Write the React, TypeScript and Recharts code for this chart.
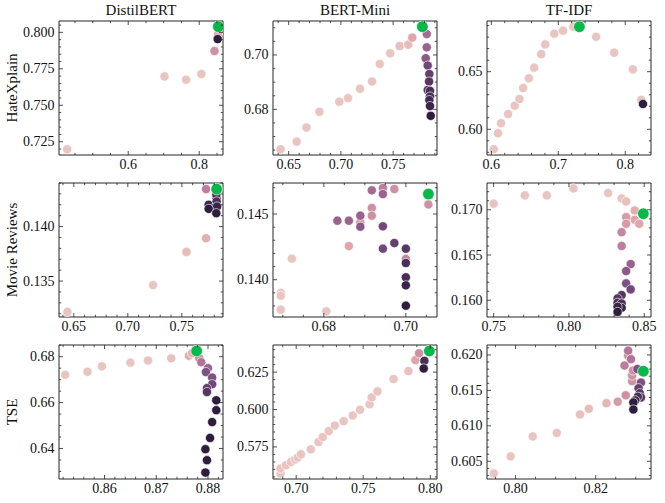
import React from 'react';
import { ScatterChart, Scatter, XAxis, YAxis } from 'recharts';

type Pt = [number, number, number]; // [metric x, metric y, hue level]

const models = ['DistilBERT', 'BERT-Mini', 'TF-IDF'];
const datasets = ['HateXplain', 'Movie Reviews', 'TSE'];

// ---------- HateXplain ----------
const hateDistil: Pt[] = [
  [0.428, 0.7198, 0.05], [0.702, 0.7698, 0.05], [0.763, 0.7675, 0.05], [0.806, 0.7714, 0.05],
  [0.843, 0.7872, 0.35], [0.853, 0.799, 0.2], [0.852, 0.7954, 1.0],
];
const hateDistilBest: [number, number] = [0.854, 0.8039];

const hateMini: Pt[] = [
  [0.6423, 0.6653, 0.05], [0.6577, 0.6681, 0.05], [0.667, 0.6733, 0.05], [0.6795, 0.6791, 0.05],
  [0.6985, 0.6828, 0.05], [0.7068, 0.6841, 0.05], [0.7183, 0.6876, 0.05], [0.7298, 0.6902, 0.05],
  [0.7372, 0.6967, 0.05], [0.7472, 0.7006, 0.05], [0.7562, 0.7033, 0.08], [0.7645, 0.7038, 0.1],
  [0.7683, 0.7064, 0.25], [0.7822, 0.7077, 0.55], [0.7822, 0.7028, 0.6], [0.7812, 0.6988, 0.65],
  [0.7831, 0.6961, 0.75], [0.7847, 0.693, 0.8], [0.7844, 0.6902, 0.85], [0.7831, 0.6871, 0.85],
  [0.7853, 0.6868, 0.9], [0.7853, 0.6847, 0.9], [0.7847, 0.6834, 0.92], [0.7853, 0.6812, 0.95],
  [0.786, 0.6776, 1.0],
];
const hateMiniBest: [number, number] = [0.778, 0.7104];

const hateTfidf: Pt[] = [
  [0.6035, 0.5827, 0.05], [0.61, 0.5966, 0.05], [0.6145, 0.6053, 0.05], [0.625, 0.6133, 0.05],
  [0.635, 0.6205, 0.05], [0.642, 0.6263, 0.05], [0.6475, 0.6359, 0.05], [0.656, 0.6443, 0.05],
  [0.664, 0.6535, 0.05], [0.6745, 0.6653, 0.05], [0.6805, 0.6737, 0.05], [0.694, 0.683, 0.05],
  [0.707, 0.6856, 0.05], [0.7225, 0.689, 0.05], [0.7565, 0.6803, 0.05], [0.7835, 0.6665, 0.05],
  [0.8115, 0.652, 0.05], [0.824, 0.6255, 0.05], [0.8265, 0.622, 1.0],
];
const hateTfidfBest: [number, number] = [0.7315, 0.689];

// ---------- Movie Reviews ----------
const movieDistil: Pt[] = [
  [0.6441, 0.13217, 0.05], [0.7234, 0.13463, 0.05], [0.7543, 0.13767, 0.1], [0.7724, 0.13893, 0.2],
  [0.7724, 0.14344, 0.45], [0.7822, 0.1426, 0.8], [0.7819, 0.14292, 0.85], [0.7822, 0.1423, 0.9],
  [0.7808, 0.1415, 0.9], [0.7748, 0.142, 0.95], [0.7794, 0.1417, 0.9], [0.7826, 0.14184, 0.95],
  [0.7748, 0.14163, 1.0], [0.7819, 0.14123, 1.0],
];
const movieDistilBest: [number, number] = [0.7822, 0.14344];

const movieMini: Pt[] = [
  [0.6695, 0.13899, 0.05], [0.6695, 0.13878, 0.05], [0.6695, 0.13772, 0.05], [0.6722, 0.1416, 0.05],
  [0.6806, 0.13759, 0.05], [0.6861, 0.14256, 0.25], [0.6889, 0.14436, 0.3], [0.6917, 0.14546, 0.35],
  [0.6917, 0.14487, 0.35], [0.6972, 0.1469, 0.35], [0.6833, 0.14449, 0.6], [0.6861, 0.14449, 0.6],
  [0.6889, 0.14487, 0.6], [0.6889, 0.14403, 0.65], [0.6917, 0.1468, 0.55], [0.6944, 0.14698, 0.45],
  [0.6944, 0.14652, 0.6], [0.6944, 0.14406, 0.75], [0.6944, 0.14236, 0.75], [0.6972, 0.14279, 0.8],
  [0.7, 0.14236, 0.85], [0.7, 0.14158, 0.4], [0.7, 0.14127, 0.9], [0.7, 0.14018, 0.9],
  [0.7, 0.13957, 0.95], [0.7, 0.13802, 1.0], [0.7055, 0.14573, 0.35],
];
const movieMiniBest: [number, number] = [0.7055, 0.14652];

const movieTfidf: Pt[] = [
  [0.75, 0.17067, 0.05], [0.7707, 0.17159, 0.05], [0.7853, 0.17159, 0.05], [0.803, 0.17236, 0.05],
  [0.826, 0.17185, 0.05], [0.835, 0.17125, 0.05], [0.838, 0.17092, 0.08], [0.8437, 0.16992, 0.2],
  [0.8437, 0.16889, 0.25], [0.8467, 0.16845, 0.25], [0.838, 0.16919, 0.3], [0.838, 0.16845, 0.3],
  [0.835, 0.16752, 0.4], [0.835, 0.166, 0.45], [0.841, 0.164, 0.6], [0.838, 0.16323, 0.65],
  [0.838, 0.16186, 0.7], [0.841, 0.1612, 0.75], [0.835, 0.16057, 0.85], [0.8323, 0.1602, 0.85],
  [0.8323, 0.15972, 0.9], [0.835, 0.15964, 0.9], [0.835, 0.15916, 0.95], [0.8323, 0.15927, 0.95],
  [0.8323, 0.15871, 1.0],
];
const movieTfidfBest: [number, number] = [0.8494, 0.16956];

// ---------- TSE ----------
const tseDistil: Pt[] = [
  [0.8524, 0.6721, 0.05], [0.8567, 0.6734, 0.05], [0.8595, 0.6758, 0.05], [0.865, 0.6774, 0.05],
  [0.8684, 0.6783, 0.05], [0.8729, 0.6793, 0.08], [0.8763, 0.6804, 0.2], [0.8769, 0.6815, 0.15],
  [0.8783, 0.6793, 0.35], [0.8787, 0.6776, 0.5], [0.88, 0.675, 0.6], [0.8796, 0.6733, 0.7],
  [0.8808, 0.6709, 0.7], [0.8808, 0.668, 0.75], [0.8798, 0.6663, 0.8], [0.8798, 0.6646, 0.85],
  [0.8816, 0.661, 1.0], [0.8816, 0.6567, 1.0], [0.8808, 0.6515, 1.0], [0.8804, 0.6446, 1.0],
  [0.8795, 0.6397, 1.0], [0.8798, 0.6349, 1.0], [0.8795, 0.6295, 1.0],
];
const tseDistilBest: [number, number] = [0.8778, 0.6825];

const tseMini: Pt[] = [
  [0.6883, 0.5573, 0.05], [0.6883, 0.5606, 0.05], [0.6923, 0.5628, 0.05], [0.6961, 0.565, 0.05],
  [0.6993, 0.5666, 0.05], [0.7012, 0.5679, 0.05], [0.7035, 0.5701, 0.05], [0.7109, 0.5734, 0.05],
  [0.7166, 0.5783, 0.05], [0.7198, 0.5816, 0.05], [0.7243, 0.5856, 0.05], [0.7288, 0.5893, 0.05],
  [0.7354, 0.5922, 0.05], [0.7421, 0.596, 0.05], [0.7476, 0.5998, 0.05], [0.7548, 0.6035, 0.05],
  [0.7563, 0.6081, 0.05], [0.7606, 0.6121, 0.05], [0.7726, 0.6204, 0.05], [0.7837, 0.6257, 0.08],
  [0.7889, 0.633, 0.25], [0.7916, 0.6376, 0.35], [0.7956, 0.6325, 0.9], [0.7951, 0.6274, 1.0],
];
const tseMiniBest: [number, number] = [0.7993, 0.6391];

const tseTfidf: Pt[] = [
  [0.7946, 0.6033, 0.05], [0.7988, 0.6057, 0.05], [0.8043, 0.6085, 0.05], [0.8103, 0.609, 0.05],
  [0.8161, 0.6116, 0.08], [0.8183, 0.6124, 0.1], [0.8227, 0.6132, 0.15], [0.8255, 0.6134, 0.3],
  [0.8275, 0.6143, 0.35], [0.8291, 0.6163, 0.35], [0.8291, 0.6171, 0.35], [0.8293, 0.6178, 0.35],
  [0.8272, 0.6185, 0.45], [0.8281, 0.6199, 0.35], [0.8281, 0.6206, 0.5], [0.8288, 0.6194, 0.5],
  [0.8304, 0.618, 0.7], [0.8313, 0.6161, 0.7], [0.8307, 0.6153, 0.8], [0.831, 0.6146, 0.85],
  [0.8313, 0.614, 0.85], [0.8305, 0.6141, 0.9], [0.8299, 0.6136, 0.9], [0.8294, 0.6133, 1.0],
  [0.8294, 0.6123, 1.0],
];
const tseTfidfBest: [number, number] = [0.8319, 0.6177];

// ---------- axes: domains and tick labels ----------
interface Spec {
  pts: Pt[];
  best: [number, number];
  xDom: [number, number];
  yDom: [number, number];
  xLabels: string[];
  yLabels: string[];
  xMinor: number;
  yMinor: number;
}

const grid: Spec[][] = [
  [
    { pts: hateDistil, best: hateDistilBest, xDom: [0.405, 0.867], yDom: [0.7159, 0.8078],
      xLabels: ['0.6', '0.8'], yLabels: ['0.725', '0.750', '0.775', '0.800'], xMinor: 0.05, yMinor: 0.005 },
    { pts: hateMini, best: hateMiniBest, xDom: [0.635, 0.792], yDom: [0.6632, 0.7125],
      xLabels: ['0.65', '0.70', '0.75'], yLabels: ['0.68', '0.70'], xMinor: 0.01, yMinor: 0.005 },
    { pts: hateTfidf, best: hateTfidfBest, xDom: [0.5935, 0.8385], yDom: [0.5777, 0.694],
      xLabels: ['0.6', '0.7', '0.8'], yLabels: ['0.60', '0.65'], xMinor: 0.02, yMinor: 0.01 },
  ],
  [
    { pts: movieDistil, best: movieDistilBest, xDom: [0.6363, 0.7881], yDom: [0.1317, 0.144],
      xLabels: ['0.65', '0.70', '0.75'], yLabels: ['0.135', '0.140'], xMinor: 0.01, yMinor: 0.001 },
    { pts: movieMini, best: movieMiniBest, xDom: [0.6676, 0.7076], yDom: [0.13716, 0.14736],
      xLabels: ['0.68', '0.70'], yLabels: ['0.140', '0.145'], xMinor: 0.005, yMinor: 0.001 },
    { pts: movieTfidf, best: movieTfidfBest, xDom: [0.7456, 0.8545], yDom: [0.15815, 0.17296],
      xLabels: ['0.75', '0.80', '0.85'], yLabels: ['0.160', '0.165', '0.170'], xMinor: 0.01, yMinor: 0.001 },
  ],
  [
    { pts: tseDistil, best: tseDistilBest, xDom: [0.8512, 0.8829], yDom: [0.6267, 0.6851],
      xLabels: ['0.86', '0.87', '0.88'], yLabels: ['0.64', '0.66', '0.68'], xMinor: 0.002, yMinor: 0.005 },
    { pts: tseMini, best: tseMiniBest, xDom: [0.6827, 0.805], yDom: [0.5536, 0.6431],
      xLabels: ['0.70', '0.75', '0.80'], yLabels: ['0.575', '0.600', '0.625'], xMinor: 0.01, yMinor: 0.005 },
    { pts: tseTfidf, best: tseTfidfBest, xDom: [0.7929, 0.8338], yDom: [0.6025, 0.6214],
      xLabels: ['0.80', '0.82'], yLabels: ['0.605', '0.610', '0.615', '0.620'], xMinor: 0.005, yMinor: 0.001 },
  ],
];

// ---------- styling ----------
const FONT = '"Liberation Serif", "DejaVu Serif", serif';
const TICK_FS = 14;
const INK = '#262626';
const HUE_STOPS = [
  [236, 205, 198],
  [222, 166, 172],
  [178, 117, 153],
  [112, 72, 122],
  [45, 30, 62],
];
function hueColor(h: number) {
  const t = Math.max(0, Math.min(1, h)) * (HUE_STOPS.length - 1);
  const i = Math.min(HUE_STOPS.length - 2, Math.floor(t));
  const f = t - i;
  const a = HUE_STOPS[i], b = HUE_STOPS[i + 1];
  const c = a.map((v, k) => Math.round(v + (b[k] - v) * f));
  return `rgb(${c[0]},${c[1]},${c[2]})`;
}

const colLefts = [59, 273, 487];
const rowTops = [21, 183, 345];
const PW = 164;
const PH = 134;
const YW = 50;
const XH = 24;
const TH = 1;
const RW = 14;

function minorTicks(dom: [number, number], step: number) {
  const out: number[] = [];
  const s = Math.ceil(dom[0] / step - 1e-9);
  const e = Math.floor(dom[1] / step + 1e-9);
  for (let i = s; i <= e; i++) out.push(+(i * step).toFixed(6));
  return out;
}

function makeTick(side: 'bottom' | 'top' | 'left' | 'right', labels: string[]) {
  const majors = labels.map(Number);
  return (p: any) => {
    const { x, y, payload } = p;
    const v = payload.value;
    const idx = majors.findIndex((m) => Math.abs(m - v) < 1e-7);
    const len = idx >= 0 ? 4 : 2.2;
    let line;
    if (side === 'bottom') line = <line x1={x} y1={y} x2={x} y2={y - len} stroke={INK} strokeWidth={0.8} />;
    else if (side === 'top') line = <line x1={x} y1={y} x2={x} y2={y + len} stroke={INK} strokeWidth={0.8} />;
    else if (side === 'left') line = <line x1={x} y1={y} x2={x + len} y2={y} stroke={INK} strokeWidth={0.8} />;
    else line = <line x1={x} y1={y} x2={x - len} y2={y} stroke={INK} strokeWidth={0.8} />;
    let label = null;
    if (idx >= 0 && side === 'bottom') {
      label = (
        <text x={x} y={y + 14} textAnchor="middle" fontSize={TICK_FS} fontFamily={FONT} fill="#111">
          {labels[idx]}
        </text>
      );
    } else if (idx >= 0 && side === 'left') {
      label = (
        <text x={x - 4.5} y={y + 4.5} textAnchor="end" fontSize={TICK_FS} fontFamily={FONT} fill="#111">
          {labels[idx]}
        </text>
      );
    }
    return (
      <g>
        {line}
        {label}
      </g>
    );
  };
}

const Dot = (p: any) => {
  if (p.cx == null || p.cy == null) return <g />;
  return <circle cx={p.cx} cy={p.cy} r={4.6} fill={hueColor(p.payload.h)} stroke="#ffffff" strokeWidth={0.6} />;
};
const BestDot = (p: any) => {
  if (p.cx == null || p.cy == null) return <g />;
  return <circle cx={p.cx} cy={p.cy} r={5.8} fill="#08b84a" stroke="#ffffff" strokeWidth={0.6} />;
};

const axisLine = { stroke: INK, strokeWidth: 1 };

function Panel({ spec, left, top }: { spec: Spec; left: number; top: number }) {
  const data = spec.pts.map(([x, y, h]) => ({ x, y, h }));
  const bestData = [{ x: spec.best[0], y: spec.best[1], h: 0 }];
  const xTicks = minorTicks(spec.xDom, spec.xMinor);
  const yTicks = minorTicks(spec.yDom, spec.yMinor);
  return (
    <div style={{ position: 'absolute', left: left - YW, top: top - TH }}>
      <ScatterChart
        width={YW + PW + RW}
        height={TH + PH + XH}
        margin={{ top: 0, right: 0, bottom: 0, left: 0 }}
      >
        <XAxis xAxisId="b" orientation="bottom" type="number" dataKey="x" domain={spec.xDom}
          allowDataOverflow ticks={xTicks} interval={0} tickLine={false} tickSize={0} tickMargin={0}
          height={XH} axisLine={axisLine} tick={makeTick('bottom', spec.xLabels)} />
        <XAxis xAxisId="t" orientation="top" type="number" dataKey="x" domain={spec.xDom}
          allowDataOverflow ticks={xTicks} interval={0} tickLine={false} tickSize={0} tickMargin={0}
          height={TH} axisLine={axisLine} tick={makeTick('top', spec.xLabels)} />
        <YAxis yAxisId="l" orientation="left" type="number" dataKey="y" domain={spec.yDom}
          allowDataOverflow ticks={yTicks} interval={0} tickLine={false} tickSize={0} tickMargin={0}
          width={YW} axisLine={axisLine} tick={makeTick('left', spec.yLabels)} />
        <YAxis yAxisId="r" orientation="right" type="number" dataKey="y" domain={spec.yDom}
          allowDataOverflow ticks={yTicks} interval={0} tickLine={false} tickSize={0} tickMargin={0}
          width={RW} axisLine={axisLine} tick={makeTick('right', spec.yLabels)} />
        <Scatter data={data} xAxisId="b" yAxisId="l" isAnimationActive={false} shape={Dot} />
        <Scatter data={bestData} xAxisId="b" yAxisId="l" isAnimationActive={false} shape={BestDot} />
      </ScatterChart>
    </div>
  );
}

export default function App() {
  return (
    <div style={{ position: 'absolute', left: 0, top: 0, width: 665, height: 503, background: '#fff', overflow: 'hidden' }}>
      {grid.map((row, r) =>
        row.map((spec, c) => (
          <Panel key={`${r}-${c}`} spec={spec} left={colLefts[c]} top={rowTops[r]} />
        ))
      )}
      <svg width={665} height={503} style={{ position: 'absolute', left: 0, top: 0, pointerEvents: 'none' }}>
        {models.map((m, c) => (
          <text key={m} x={colLefts[c] + PW / 2} y={15} textAnchor="middle" fontSize={15} fontFamily={FONT} fill="#111">
            {m}
          </text>
        ))}
        {datasets.map((d, r) => {
          const cy = rowTops[r] + PH / 2;
          return (
            <text key={d} x={17} y={cy} transform={`rotate(-90 17 ${cy})`} textAnchor="middle" fontSize={15} fontFamily={FONT} fill="#111">
              {d}
            </text>
          );
        })}
      </svg>
    </div>
  );
}
